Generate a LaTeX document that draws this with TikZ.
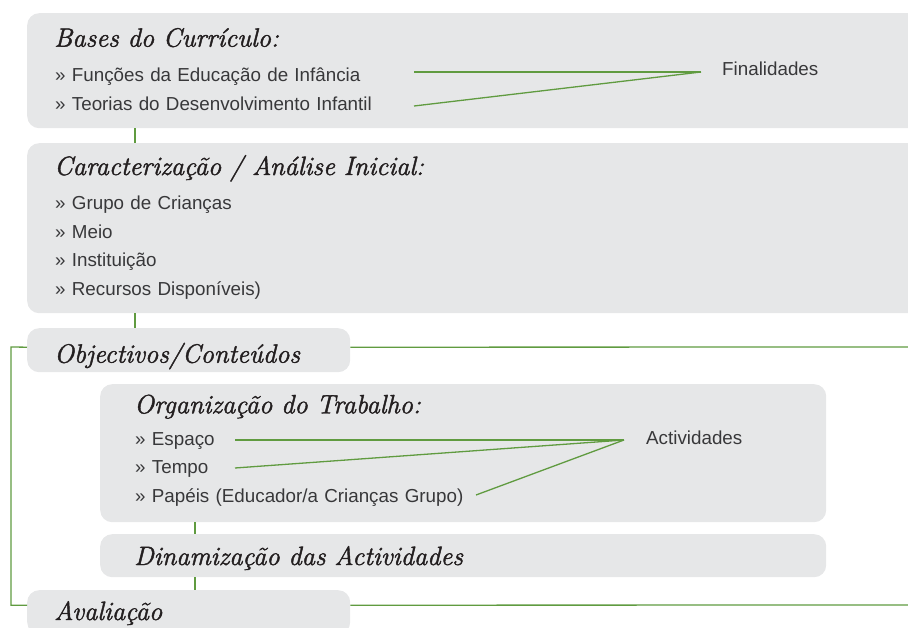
\documentclass[tikz,border=0pt]{standalone}
\usepackage{fontspec}
\setsansfont{Liberation Sans}
\newfontfamily\titlefont[FakeBold=1.6]{Latin Modern Roman}
\usetikzlibrary{calc}
\definecolor{boxgray}{HTML}{E6E7E8}
\definecolor{linkgreen}{RGB}{96,155,64}
\definecolor{titlegray}{HTML}{231F20}
\definecolor{itemgray}{HTML}{38383A}
\tikzstyle{graybox} = [rectangle, rounded corners=12pt, fill=boxgray, 
    anchor=north west, inner sep=0pt]
\tikzstyle{boxtitle} = [anchor=west, inner sep=0pt, text width=500pt, align=left,
    text height=18pt, text depth=6pt, text=titlegray, font=\titlefont\itshape\fontsize{26.5}{30}\selectfont]
\tikzstyle{listitem} = [inner sep=0pt, text width=500pt, align=left,
    text height=13.5pt, text depth=4.5pt, text=itemgray, font=\sffamily\fontsize{18.8}{22}\selectfont]
\tikzstyle{sidelabel} = [anchor=base west, inner sep=0pt, text=itemgray, 
    font=\sffamily\fontsize{18.8}{22}\selectfont]
\tikzstyle{link} = [linkgreen, line width=1.3pt]

\begin{document}
\begin{tikzpicture}[x=1pt, y=-1pt, node distance=28.5pt]
    \useasboundingbox (0,0) rectangle (908,628);
    \clip (0,0) rectangle (908,628);

    % boxes
    \node (bases) [graybox, minimum width=900pt, minimum height=115pt] at (27,13) {};
    \node (caract) [graybox, minimum width=900pt, minimum height=170pt] at (27,143) {};
    \node (object) [graybox, minimum width=323pt, minimum height=44pt] at (27,328) {};
    \node (organiz) [graybox, minimum width=726pt, minimum height=138pt] at (100,384) {};
    \node (dinam) [graybox, minimum width=726pt, minimum height=43pt] at (100,534) {};
    \node (aval) [graybox, minimum width=323pt, minimum height=44pt] at (27,590) {};

    % bases do curriculo
    \node (basestitle) [boxtitle] at (54,40.7) {Bases do Currículo:};
    \node (funcoes) [listitem, below of=basestitle, yshift=-8pt, xshift=1pt] {» Funções da Educação de Infância};
    \node (teorias) [listitem, below of=funcoes] {» Teorias do Desenvolvimento Infantil};

    % caracterizacao
    \node (caracttitle) [boxtitle] at (54,169) {Caracterização / Análise Inicial:};
    \node (grupo) [listitem, below of=caracttitle, yshift=-8pt, xshift=1pt] {» Grupo de Crianças};
    \node (meio) [listitem, below of=grupo] {» Meio};
    \node (instit) [listitem, below of=meio] {» Instituição};
    \node (recursos) [listitem, below of=instit] {» Recursos Disponíveis)};

    % objectivos, organizacao, dinamizacao, avaliacao
    \node (objecttitle) [boxtitle] at (54,356.7) {Objectivos/Conteúdos};
    \node (organiztitle) [boxtitle] at (134,407.3) {Organização do Trabalho:};
    \node (espaco) [listitem, below of=organiztitle, yshift=-4.7pt, xshift=1pt] {» Espaço};
    \node (tempo) [listitem, below of=espaco] {» Tempo};
    \node (papeis) [listitem, below of=tempo] {» Papéis (Educador/a Crianças Grupo)};
    \node (dinamtitle) [boxtitle] at (134,559) {Dinamização das Actividades};
    \node (avaltitle) [boxtitle] at (54,614) {Avaliação};

    % side labels
    \coordinate (finapex) at (701,72);
    \coordinate (funcoesend) at (414,72);
    \coordinate (teoriasend) at (414,106);
    \node (finalidades) [sidelabel] at (722,75.7) {Finalidades};

    \coordinate (actapex) at (624,440);
    \coordinate (espacoend) at (235,440);
    \coordinate (tempoend) at (235,468);
    \coordinate (papeisend) at (476,495);
    \node (actividades) [sidelabel] at (646,444) {Actividades};

    \coordinate (leftbar) at (11,347);
    \coordinate (rightend1) at (910,347);
    \coordinate (rightend2) at (910,605);

    % connectors
    \draw [link] ([xshift=108pt]bases.south west) -- ([xshift=108pt]caract.north west);
    \draw [link] ([xshift=108pt]caract.south west) -- ([xshift=108pt]object.north west);
    \draw [link] ([xshift=95pt]organiz.south west) -- ([xshift=95pt]dinam.north west);
    \draw [link] ([xshift=95pt]dinam.south west) -- ([xshift=168pt]aval.north west);
    \draw [link] ([yshift=3pt]object.west) -- (leftbar) |- ([yshift=7pt]aval.west);
    \draw [link] ([yshift=3pt]object.east) -- (rightend1);
    \draw [link] ([yshift=7pt]aval.east) -- (rightend2);

    \draw [link] (funcoesend) -- (finapex);
    \draw [link] (teoriasend) -- (finapex);
    \draw [link] (espacoend) -- (actapex);
    \draw [link] (tempoend) -- (actapex);
    \draw [link] (papeisend) -- (actapex);
\end{tikzpicture}
\end{document}
